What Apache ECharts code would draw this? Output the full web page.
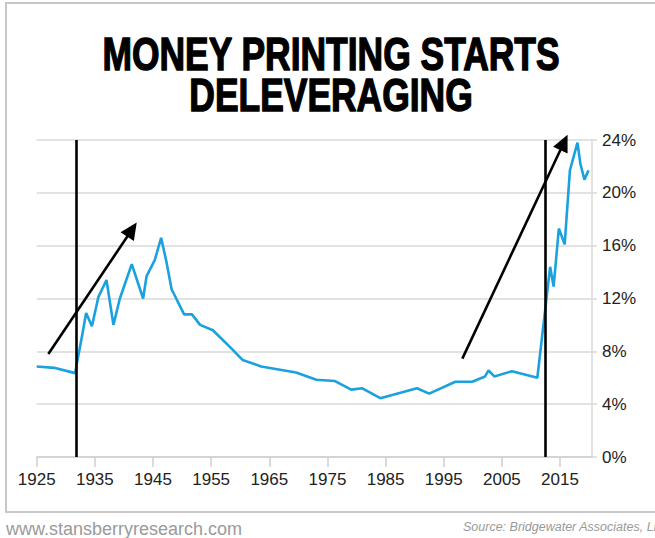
<!DOCTYPE html>
<html>
<head>
<meta charset="utf-8">
<script src="https://cdn.jsdelivr.net/npm/echarts@6/dist/echarts.min.js"></script>
<style>
html,body{margin:0;padding:0;background:#fff;}
#chart{width:655px;height:538px;}
</style>
</head>
<body>
<div id="chart"></div>
<script>
// Data
const years = [
  1925, 1928, 1931.6, 1932.9, 1933.5, 1934.5, 1935.6, 1937, 1938.2, 1939.3, 1941.35, 1943.3, 1943.9, 1945.3, 1946.4, 1947.3, 1948.2,
  1950.35, 1951.7, 1953.1, 1955.3, 1958.3, 1960.4, 1963.6, 1969.6, 1973.1, 1976.3, 1979.1, 1981, 1984.1, 1990.4, 1992.5, 1997, 1999.9,
  2002.1, 2002.7, 2003.7, 2006.75, 2011.1, 2013.3, 2013.9, 2014.8, 2015.8, 2016.7, 2018, 2018.5, 2019.2, 2019.9
];
const values = [
  6.85, 6.75, 6.35, 9.4, 10.9, 9.9, 12.1, 13.4, 10.0, 12.0, 14.6, 12.0, 13.7, 14.9, 16.6, 14.8, 12.7,
  10.8, 10.8, 10.0, 9.6, 8.3, 7.35, 6.85, 6.4, 5.85, 5.75, 5.1, 5.2, 4.45, 5.2, 4.8, 5.7, 5.7,
  6.1, 6.55, 6.1, 6.5, 6.0, 14.4, 12.9, 17.3, 16.1, 21.7, 23.8, 22.2, 21.0, 21.7
];
const xTickLabels = [1925, 1935, 1945, 1955, 1965, 1975, 1985, 1995, 2005, 2015];
const markerYears = [1931.8, 2012.5];
const arrowTails = [[1927.0, 7.8], [1998.2, 7.45]];
const arrowTips = [[1942.2, 17.75], [2016.3, 24.4]];
const titleLines = ['MONEY PRINTING STARTS', 'DELEVERAGING'];
const siteText = 'www.stansberryresearch.com';
const sourceText = 'Source: Bridgewater Associates, LLC';

const chart = echarts.init(document.getElementById('chart'), null, {renderer: 'svg'});

const seriesData = years.map((y, i) => [y, values[i]]);

const baseGraphic = [
  {
    type: 'rect',
    silent: true,
    shape: {x: 6, y: 3, width: 700, height: 509},
    style: {fill: 'none', stroke: '#c8c8c8', lineWidth: 2},
    z: -1
  },
  {
    type: 'text',
    x: 331, y: 54,
    scaleX: 0.77,
    style: {
      text: titleLines[0],
      x: 0, y: 0,
      fill: '#000',
      stroke: '#000',
      lineWidth: 1.4,
      font: 'bold 46px "Liberation Sans", Arial, sans-serif',
      textAlign: 'center',
      textVerticalAlign: 'middle'
    }
  },
  {
    type: 'text',
    x: 331, y: 95,
    scaleX: 0.77,
    style: {
      text: titleLines[1],
      x: 0, y: 0,
      fill: '#000',
      stroke: '#000',
      lineWidth: 1.4,
      font: 'bold 46px "Liberation Sans", Arial, sans-serif',
      textAlign: 'center',
      textVerticalAlign: 'middle'
    }
  },
  {
    type: 'text',
    x: 6, y: 529,
    style: {
      text: siteText,
      fill: '#9a9a9a',
      font: '18px "Liberation Sans", Arial, sans-serif',
      textAlign: 'left',
      textVerticalAlign: 'middle'
    }
  },
  {
    type: 'text',
    x: 463, y: 527,
    style: {
      text: sourceText,
      fill: '#9a9a9a',
      font: 'italic 12.5px "Liberation Sans", Arial, sans-serif',
      textAlign: 'left',
      textVerticalAlign: 'middle'
    }
  }
];

const option = {
  animation: false,
  backgroundColor: '#fff',
  grid: {left: 36.7, right: 63, top: 140, bottom: 81, containLabel: false},
  xAxis: {
    type: 'value',
    min: 1925,
    max: 2020.5,
    splitLine: {show: false},
    axisLine: {show: true, lineStyle: {color: '#cfcfcf', width: 1.5}},
    axisTick: {show: true, length: 10, customValues: xTickLabels, lineStyle: {color: '#cfcfcf', width: 1.5}},
    axisLabel: {
      customValues: xTickLabels,
      formatter: v => String(v),
      margin: 14,
      color: '#222',
      fontSize: 17,
      fontFamily: '"Liberation Sans", Arial, sans-serif'
    }
  },
  yAxis: {
    type: 'value',
    position: 'right',
    min: 0,
    max: 24,
    interval: 4,
    splitLine: {show: true, lineStyle: {color: '#d9d9d9', width: 1.5}},
    axisLine: {show: true, lineStyle: {color: '#d9d9d9', width: 1.5}},
    axisTick: {show: true, length: 5, lineStyle: {color: '#d9d9d9', width: 1.5}},
    axisLabel: {
      formatter: '{value}%',
      margin: 10,
      color: '#222',
      fontSize: 17,
      fontFamily: '"Liberation Sans", Arial, sans-serif'
    }
  },
  series: [
    {
      type: 'line',
      data: seriesData,
      symbol: 'none',
      lineStyle: {color: '#1aa1de', width: 2.6},
      z: 2
    },
    {
      type: 'line',
      data: [],
      z: 5,
      markLine: {
        silent: true,
        symbol: ['none', 'none'],
        label: {show: false},
        lineStyle: {color: '#000', width: 2.6, type: 'solid'},
        data: markerYears.map(y => [{coord: [y, 0]}, {coord: [y, 24]}])
      }
    }
  ],
  graphic: baseGraphic
};

chart.setOption(option);

// Arrows: positions converted from data coordinates through the chart's axes
const arrowGraphic = [];
const headLen = 17, headHalf = 8;
arrowTails.forEach((tail, i) => {
  const p0 = chart.convertToPixel({gridIndex: 0}, tail);
  const p1 = chart.convertToPixel({gridIndex: 0}, arrowTips[i]);
  const dx = p1[0] - p0[0], dy = p1[1] - p0[1];
  const len = Math.sqrt(dx * dx + dy * dy);
  const ux = dx / len, uy = dy / len;
  const bx = p1[0] - ux * headLen, by = p1[1] - uy * headLen;
  arrowGraphic.push({
    type: 'line',
    silent: true,
    z: 10,
    shape: {x1: p0[0], y1: p0[1], x2: bx + ux * 2, y2: by + uy * 2},
    style: {stroke: '#000', lineWidth: 2.6}
  });
  arrowGraphic.push({
    type: 'polygon',
    silent: true,
    z: 10,
    shape: {points: [
      [p1[0], p1[1]],
      [bx - uy * headHalf, by + ux * headHalf],
      [bx + uy * headHalf, by - ux * headHalf]
    ]},
    style: {fill: '#000'}
  });
});

chart.setOption({graphic: baseGraphic.concat(arrowGraphic)});
</script>
</body>
</html>
